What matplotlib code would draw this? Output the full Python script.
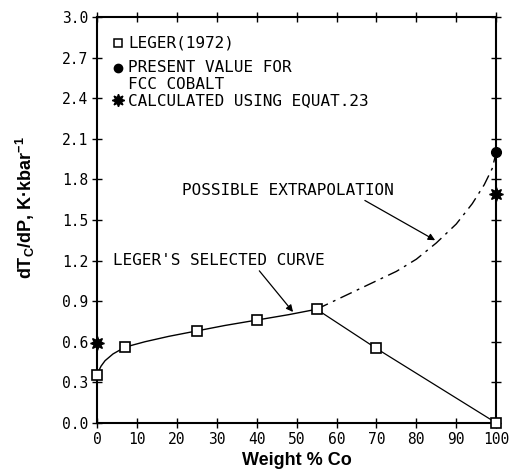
import matplotlib.pyplot as plt

plt.rcParams['mathtext.fontset'] = 'custom'
plt.rcParams['mathtext.bf'] = 'Liberation Sans:bold'
plt.rcParams['mathtext.rm'] = 'Liberation Sans:bold'
plt.rcParams['mathtext.default'] = 'bf'

# Leger (1972) data points
leger_x = [0, 7, 25, 40, 55, 70, 100]
leger_y = [0.355, 0.56, 0.68, 0.76, 0.84, 0.55, 0.0]

# Leger's selected curve (solid)
curve_x = [0, 0.5, 1, 2, 4, 7, 12, 18, 25, 32, 40, 48, 55]
curve_y = [0.355, 0.39, 0.42, 0.46, 0.51, 0.56, 0.60, 0.64, 0.68, 0.72, 0.76, 0.80, 0.84]

# possible extrapolation (dashed)
extra_x = [55, 60, 65, 70, 75, 80, 85, 90, 94, 97, 99, 100]
extra_y = [0.84, 0.91, 0.98, 1.05, 1.12, 1.21, 1.33, 1.47, 1.62, 1.76, 1.88, 2.0]

# present value for fcc cobalt
present_x = [100]
present_y = [2.0]

# calculated using equat. 23
calc_x = [0, 100]
calc_y = [0.59, 1.69]

x_ticks = list(range(0, 101, 10))
y_ticks = [0.0, 0.3, 0.6, 0.9, 1.2, 1.5, 1.8, 2.1, 2.4, 2.7, 3.0]

mono = 'DejaVu Sans Mono'
fs = 11.5

fig = plt.figure(figsize=(5.11, 4.72), dpi=100)
ax = fig.add_axes([0.190, 0.104, 0.781, 0.860])

ax.plot(curve_x, curve_y, color='black', lw=1.0)
ax.plot(extra_x, extra_y, color='black', lw=1.0, linestyle=(0, (9, 4, 2, 4)))
ax.plot(leger_x[4:], leger_y[4:], color='black', lw=0.9)
ax.plot(leger_x, leger_y, 's', ms=7, mfc='white', mec='black', mew=1.2, ls='none', clip_on=False, zorder=5)
ax.plot(present_x, present_y, 'o', ms=7, color='black', ls='none', clip_on=False, zorder=5)
ax.plot(calc_x, calc_y, marker=(8, 1, 0), ms=10, color='black', ls='none', clip_on=False, zorder=5)

# legend drawn by hand
ax.plot([5.3], [2.81], 's', ms=6, mfc='white', mec='black', mew=1.1)
ax.plot([5.3], [2.62], 'o', ms=6, color='black')
ax.plot([5.3], [2.39], marker=(8, 1, 0), ms=9, color='black')
ax.text(7.8, 2.81, 'LEGER(1972)', family=mono, fontsize=fs, va='center')
ax.text(7.8, 2.625, 'PRESENT VALUE FOR', family=mono, fontsize=fs, va='center')
ax.text(7.8, 2.5, 'FCC COBALT', family=mono, fontsize=fs, va='center')
ax.text(7.8, 2.385, 'CALCULATED USING EQUAT.23', family=mono, fontsize=fs, va='center')

ax.annotate("LEGER'S SELECTED CURVE", xy=(49.1, 0.82), xytext=(4, 1.2),
            family=mono, fontsize=fs, va='center',
            arrowprops=dict(arrowstyle='-|>', color='black', lw=0.9,
                            shrinkA=0, shrinkB=0, mutation_scale=10,
                            relpos=(0.68, 0)))
ax.annotate("POSSIBLE EXTRAPOLATION", xy=(84.7, 1.35), xytext=(21.3, 1.72),
            family=mono, fontsize=fs, va='center',
            arrowprops=dict(arrowstyle='-|>', color='black', lw=0.9,
                            shrinkA=0, shrinkB=0, mutation_scale=10,
                            relpos=(0.84, 0)))

ax.set_xlim(0, 100)
ax.set_ylim(0, 3.0)
ax.set_xticks(x_ticks)
ax.set_yticks(y_ticks)
ax.set_xticklabels([str(v) for v in x_ticks], family=mono, fontsize=10.5)
ax.set_yticklabels(['%.1f' % v for v in y_ticks], family=mono, fontsize=10.5)
ax.tick_params(direction='inout', length=7, width=1.0, top=True, right=True, pad=3)
for s in ax.spines.values():
    s.set_linewidth(1.5)

ax.set_xlabel('Weight % Co', family='Liberation Sans', fontweight='bold', fontsize=13, labelpad=4)
ax.set_ylabel('dT$_{C}$/dP, K\u00b7kbar$^{-1}$', family='Liberation Sans', fontweight='bold', fontsize=13)
ax.yaxis.set_label_coords(-0.15, 0.53)

fig.savefig('out.png', dpi=100)
